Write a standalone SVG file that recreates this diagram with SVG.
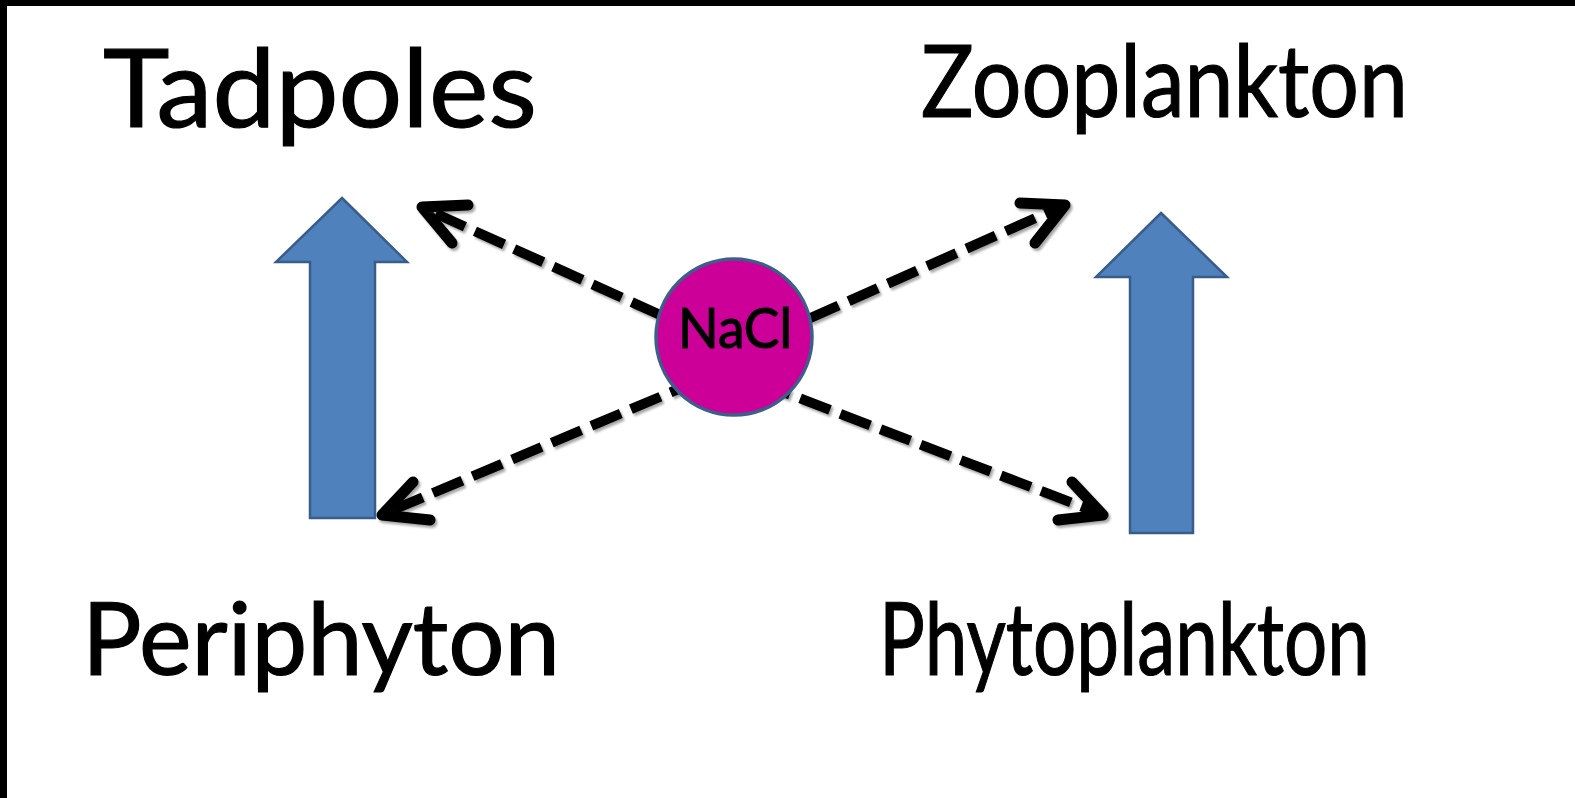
<svg xmlns="http://www.w3.org/2000/svg" width="1575" height="798" viewBox="0 0 1575 798">
<style>
.lbl{font-family:"Lato","Open Sans","Liberation Sans",sans-serif;fill:#000;stroke:#000;stroke-width:1.2}
.big{font-size:101px}
.blue{fill:#4F81BD;stroke:#385D8A;stroke-width:2.5;stroke-linejoin:miter}
.dash{fill:none;stroke:#000;stroke-width:10;stroke-dasharray:32 11}
.head{fill:none;stroke:#000;stroke-width:11;stroke-linecap:round;stroke-linejoin:round}
</style>
<defs>
<filter id="sh" x="-20%" y="-20%" width="140%" height="140%">
<feDropShadow dx="2" dy="2.5" stdDeviation="1.2" flood-color="#000" flood-opacity="0.35"/>
</filter>
</defs>
<rect x="0" y="0" width="1575" height="798" fill="#fff"/>
<rect x="0" y="0" width="1575" height="6" fill="#000"/>
<rect x="0" y="0" width="7" height="798" fill="#000"/>

<g id="tadpoles"><text class="lbl" x="103" y="127" font-size="108" textLength="434" lengthAdjust="spacingAndGlyphs">Tadpoles</text></g>
<g id="zooplankton"><text class="lbl big" x="921" y="117" textLength="487" lengthAdjust="spacingAndGlyphs">Zooplankton</text></g>
<g id="periphyton"><text class="lbl big" x="82" y="675" textLength="478" lengthAdjust="spacingAndGlyphs">Periphyton</text></g>
<g id="phytoplankton"><text class="lbl big" x="879" y="675" textLength="491" lengthAdjust="spacingAndGlyphs">Phytoplankton</text></g>

<g id="arrow-left"><path class="blue" d="M342 198 L407 262 L375 262 L375 518 L310 518 L310 262 L276 262 Z"/></g>
<g id="arrow-right"><path class="blue" d="M1161 213 L1227 277 L1193 277 L1193 533 L1130 533 L1130 277 L1096 277 Z"/></g>

<g id="connectors" filter="url(#sh)">
<path class="dash" d="M700 333 L428 210"/>
<path class="head" d="M468 205 L422 207 L452 243"/>
<path class="dash" d="M700 380 L388 512"/>
<path class="head" d="M413 482 L382 515 L430 520"/>
<path class="dash" d="M770 336 L1058 208"/>
<path class="head" d="M1020 203 L1065 205 L1035 243"/>
<path class="dash" d="M760 383 L1096 512"/>
<path class="head" d="M1072 482 L1103 515 L1058 520"/>
</g>

<g id="nacl">
<circle cx="734" cy="337" r="78" fill="#CC0099" stroke="#3B5F8A" stroke-width="3.5"/>
<text class="lbl" x="735" y="348" font-size="57" stroke-width="0.6" text-anchor="middle" textLength="114" lengthAdjust="spacingAndGlyphs">NaCl</text>
</g>
</svg>
